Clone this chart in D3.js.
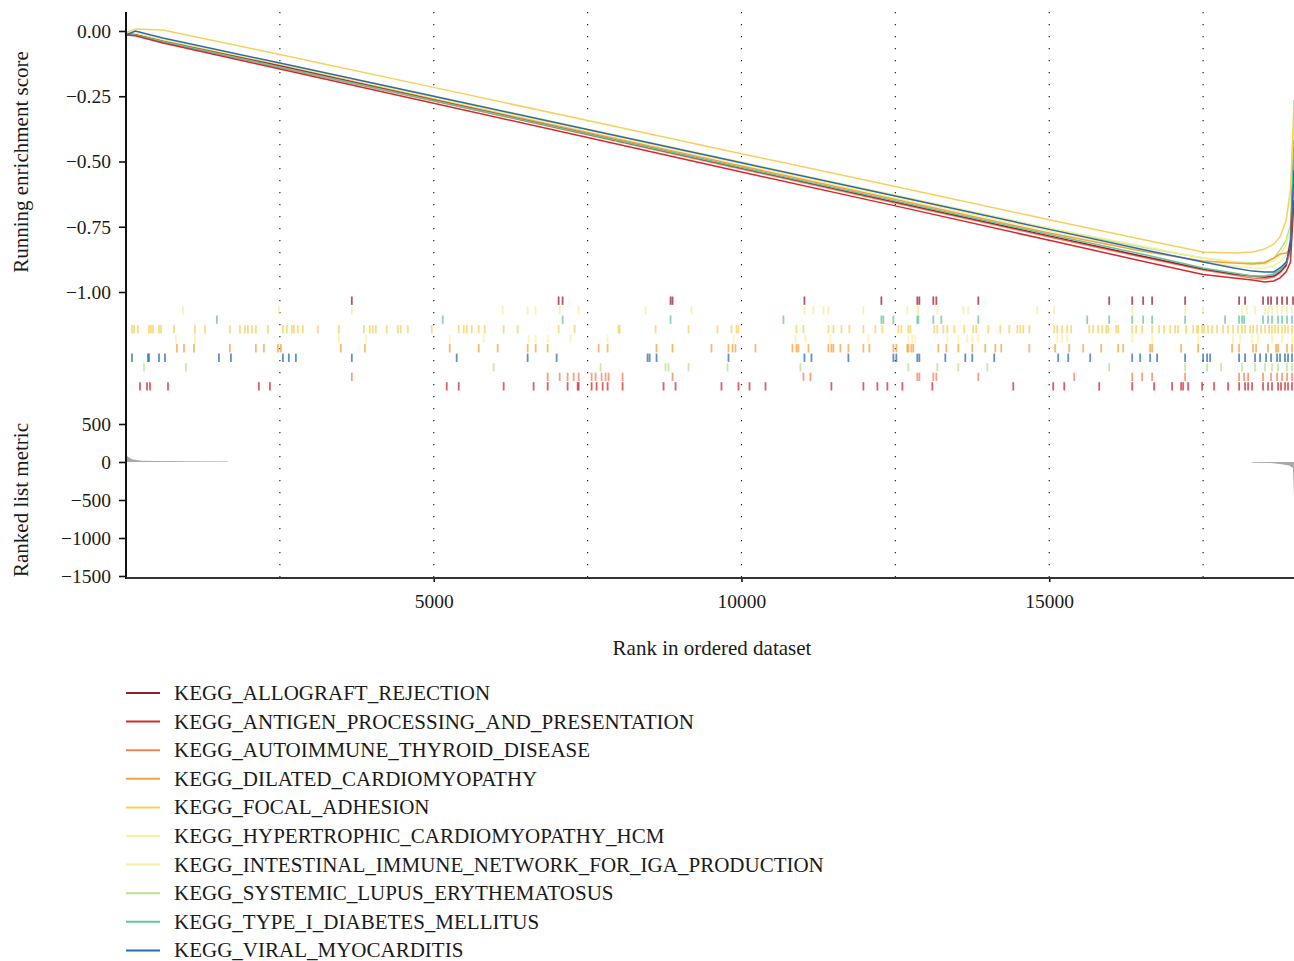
<!DOCTYPE html>
<html>
<head>
<meta charset="utf-8">
<script src="https://cdn.jsdelivr.net/npm/d3@7"></script>
<style>
  body { margin: 0; background: #ffffff; }
  svg { display: block; }
  text { font-family: "Liberation Serif", "DejaVu Serif", serif; fill: #1a1a1a; }
</style>
</head>
<body>
<svg id="chart" width="1294" height="961"></svg>
<script>
// ---- gene sets (legend order) and their colours ----
const geneSets = [
  "KEGG_ALLOGRAFT_REJECTION",
  "KEGG_ANTIGEN_PROCESSING_AND_PRESENTATION",
  "KEGG_AUTOIMMUNE_THYROID_DISEASE",
  "KEGG_DILATED_CARDIOMYOPATHY",
  "KEGG_FOCAL_ADHESION",
  "KEGG_HYPERTROPHIC_CARDIOMYOPATHY_HCM",
  "KEGG_INTESTINAL_IMMUNE_NETWORK_FOR_IGA_PRODUCTION",
  "KEGG_SYSTEMIC_LUPUS_ERYTHEMATOSUS",
  "KEGG_TYPE_I_DIABETES_MELLITUS",
  "KEGG_VIRAL_MYOCARDITIS"
];
const setColors = ["#9b1b30", "#d42a2f", "#f4805a", "#f8a03e", "#f9cf5c",
                   "#fcef9f", "#f3ef9c", "#b6e38a", "#5fc79d", "#2b6cb0"];

// ---- running enrichment score, sampled at these ranks ----
const esRanks = [0, 150, 600, 2500, 5000, 7500, 10000, 12500, 15000, 16500,
                 17500, 18000, 18300, 18500, 18650, 18750, 18850, 18920, 18977];
const esAllograft  = [-0.010, -0.014, -0.040, -0.134, -0.264, -0.395, -0.525, -0.655, -0.785, -0.862, -0.912, -0.931, -0.939, -0.943, -0.939, -0.923, -0.897, -0.801, -0.456];
const esAntigen    = [-0.015, -0.018, -0.046, -0.146, -0.277, -0.408, -0.540, -0.670, -0.802, -0.881, -0.933, -0.946, -0.954, -0.962, -0.958, -0.946, -0.923, -0.885, -0.648];
const esAutoimmune = [-0.012, -0.016, -0.042, -0.140, -0.268, -0.398, -0.529, -0.659, -0.789, -0.866, -0.916, -0.935, -0.946, -0.950, -0.943, -0.927, -0.900, -0.839, -0.494];
const esDilated    = [-0.010, -0.014, -0.038, -0.132, -0.261, -0.389, -0.517, -0.646, -0.774, -0.843, -0.881, -0.889, -0.893, -0.889, -0.870, -0.854, -0.851, -0.839, -0.609];
const esFocal      = [-0.008, 0.008, 0.004, -0.090, -0.216, -0.343, -0.470, -0.596, -0.723, -0.798, -0.847, -0.851, -0.847, -0.835, -0.816, -0.789, -0.724, -0.609, -0.303];
const esHcm        = [-0.005, -0.010, -0.034, -0.126, -0.257, -0.383, -0.510, -0.640, -0.766, -0.839, -0.885, -0.900, -0.908, -0.908, -0.900, -0.885, -0.858, -0.801, -0.571];
const esIntestinal = [-0.005, -0.008, -0.030, -0.123, -0.249, -0.375, -0.502, -0.628, -0.755, -0.824, -0.870, -0.885, -0.893, -0.893, -0.881, -0.858, -0.820, -0.762, -0.379];
const esLupus      = [-0.008, -0.012, -0.036, -0.126, -0.253, -0.379, -0.506, -0.632, -0.759, -0.828, -0.870, -0.885, -0.889, -0.885, -0.870, -0.839, -0.801, -0.743, -0.264];
const esDiabetes   = [-0.008, -0.015, -0.040, -0.138, -0.266, -0.395, -0.523, -0.651, -0.780, -0.854, -0.908, -0.927, -0.939, -0.939, -0.931, -0.916, -0.889, -0.839, -0.418];
const esViral      = [-0.015, 0.000, -0.027, -0.123, -0.250, -0.377, -0.505, -0.632, -0.760, -0.836, -0.885, -0.908, -0.920, -0.923, -0.923, -0.908, -0.885, -0.831, -0.533];

// ---- ranks of gene-set members in the ordered list ----
const hitsAllograft = [3669, 7029, 7094, 8848, 8880, 11023, 12273, 12857, 12890, 13117, 13166, 13848, 15974, 16348, 16526, 16672, 17208, 18085, 18182, 18474, 18555, 18604, 18702, 18783, 18864, 18961];
const hitsAntigen = [227, 341, 390, 682, 2159, 2338, 5211, 5406, 6136, 6623, 6851, 7175, 7338, 7354, 7565, 7646, 7744, 7825, 8068, 8734, 8929, 9675, 9951, 10130, 10390, 11461, 11981, 12208, 12370, 12614, 13101, 14416, 15065, 15244, 15812, 16348, 16705, 16997, 17143, 17176, 17257, 17484, 17679, 17906, 18085, 18182, 18231, 18296, 18474, 18555, 18620, 18718, 18766, 18831, 18880, 18945];
const hitsAutoimmune = [3669, 6851, 7046, 7175, 7273, 7354, 7565, 7630, 7727, 7792, 7841, 8068, 8880, 11007, 11120, 12857, 12890, 13117, 13166, 13848, 15406, 16348, 16510, 16672, 17208, 18085, 18166, 18231, 18474, 18604, 18702, 18783, 18864, 18945];
const hitsDilated = [828, 942, 1104, 1688, 2110, 2240, 2468, 2516, 3490, 3880, 5260, 5731, 6039, 6526, 6656, 6851, 7679, 7825, 8620, 8880, 9513, 9789, 9854, 9903, 10227, 10828, 10893, 10925, 11088, 11413, 11461, 11494, 11607, 11737, 11981, 12078, 12468, 12516, 12695, 12711, 12760, 12792, 13198, 13328, 13523, 13750, 13961, 14124, 14221, 14676, 15098, 15325, 15552, 15844, 16120, 16202, 16640, 16672, 17143, 17419, 17971, 18085, 18312, 18361, 18555, 18685, 18718, 18864, 18945];
const hitsFocal = [97, 130, 195, 373, 406, 438, 536, 568, 779, 1120, 1282, 1688, 1851, 1932, 1981, 2045, 2110, 2305, 2549, 2614, 2695, 2727, 2792, 2873, 3117, 3458, 3864, 3961, 4010, 4059, 4237, 4416, 4464, 4578, 4968, 5406, 5487, 5536, 5617, 5731, 5828, 6136,
  6364, 7029, 7289, 8003, 8020, 8604, 9140, 9611, 9838, 9919, 9951, 10893, 11007, 11413, 11494, 11624, 11753, 11981, 12176, 12289, 12549, 12598,
  12711, 12744, 13133, 13182, 13279, 13344, 13458, 13620, 13766, 13815, 14010, 14205, 14351, 14481, 14529, 14578, 14676, 15081, 15130, 15211, 15292, 15357, 15650, 15714, 15796, 15861, 15926, 15958, 16088, 16120, 16348, 16413, 16510, 16672, 16786, 16867, 16965, 17046, 17094, 17224, 17338, 17403, 17419, 17484, 17516, 17581, 17646, 17728, 17825, 17906, 17987, 18068, 18133, 18182, 18263, 18312, 18377, 18442, 18507, 18572, 18620, 18669, 18718, 18783, 18831, 18880, 18945];
const hitsHcm = [812, 1120, 3458, 3896, 5260, 5812, 6542, 6656, 6851, 7224, 7825, 9870, 10877, 11039, 11445, 12062, 12711, 12776, 12825, 13344, 13523, 13669, 13750, 13848, 15130, 15211, 15292, 16348, 16672, 17419, 17987, 18101, 18296, 18393, 18620, 18783, 18945];
const hitsIntestinal = [925, 2484, 3669, 6120, 6526, 6656, 7046, 7354, 8442, 9188, 11023, 11169, 11331, 11413, 11981, 12695, 12857, 12874, 13182, 13604, 13685, 14805, 15081, 16348, 17208, 17500, 18133, 18215, 18344, 18507, 18555, 18620, 18702, 18783, 18864, 18945];
const hitsLupus = [292, 974, 5974, 7711, 8766, 8815, 9140, 9773, 10958, 12711, 13182, 13523, 13994, 15974, 17208, 17565, 17792, 18133, 18344, 18507, 18620, 18718, 18864, 18945];
const hitsDiabetes = [1477, 5146, 7094, 8848, 10682, 12273, 12305, 12468, 12857, 12874, 13117, 13247, 13848, 15617, 15974, 16348, 16526, 16672, 17208, 17857, 18085, 18133, 18166, 18474, 18555, 18620, 18718, 18783, 18864, 18945];
const hitsViral = [97, 357, 373, 536, 633, 1510, 1705, 2549, 2646, 2760, 3669, 5373, 6526, 6997, 8474, 8507, 8620, 9789, 11023, 11137, 11737, 12468, 12516, 12857, 12890, 13312, 13637, 13750, 14107, 15146, 15309, 15666, 16348, 16478, 16640, 16753, 17208, 17500, 17565, 17614, 18085, 18182, 18344, 18426, 18523, 18604, 18702, 18750, 18831, 18880, 18945];

// rug rows from top to bottom (indices into geneSets)
const rugOrder = [0, 6, 8, 4, 5, 3, 9, 7, 2, 1];

// ---- ranked list metric, sampled ----
const metricRanks  = [0, 30, 100, 250, 500, 1000, 1650, 1680, 18290, 18310, 18600, 18750, 18900, 18960, 18977];
const metricValues = [110, 70, 35, 18, 12, 9, 8, 0, 0, -10, -14, -25, -45, -80, -460];

// ---- axis ticks ----
const esTicks = [0, -0.25, -0.5, -0.75, -1];
const metricTicks = [500, 0, -500, -1000, -1500];
const rankTicks = [5000, 10000, 15000];
const gridRanks = [2500, 5000, 7500, 10000, 12500, 15000, 17500];
const nGenes = 18977;

const esSeries = [esAllograft, esAntigen, esAutoimmune, esDilated, esFocal,
                  esHcm, esIntestinal, esLupus, esDiabetes, esViral];
const hitSeries = [hitsAllograft, hitsAntigen, hitsAutoimmune, hitsDilated, hitsFocal,
                   hitsHcm, hitsIntestinal, hitsLupus, hitsDiabetes, hitsViral];

const svg = d3.select("#chart");

// layout
const left = 126, right = 1294;
const esTop = 12;
const rugTop = 296, rugBottom = 391;
const rankBottom = 578;

const x = d3.scaleLinear().domain([0, nGenes]).range([left, right]);
const yES = d3.scaleLinear().domain([-1, 0]).range([292, 31]);
const yRow = d3.scaleBand().domain(rugOrder).range([rugTop, rugBottom]).paddingInner(0.02);
const yMetric = d3.scaleLinear().domain([-1500, 500]).range([576, 424]);

// dotted vertical grid through all three panels
svg.append("g").selectAll("line").data(gridRanks).join("line")
  .attr("x1", d => x(d)).attr("x2", d => x(d))
  .attr("y1", esTop).attr("y2", rankBottom)
  .attr("stroke", "#222").attr("stroke-width", 1.2)
  .attr("stroke-dasharray", "1.2,10.8");

// rug of gene-set members
const rug = svg.append("g");
rugOrder.forEach(si => {
  rug.append("g").selectAll("line").data(hitSeries[si]).join("line")
    .attr("x1", d => x(d)).attr("x2", d => x(d))
    .attr("y1", yRow(si) + 0.5).attr("y2", yRow(si) + yRow.bandwidth() - 0.5)
    .attr("stroke", setColors[si]).attr("stroke-width", 1.8)
    .attr("stroke-opacity", 0.75);
});

// running enrichment score curves
const line = d3.line().x(d => x(d[0])).y(d => yES(d[1]));
const drawOrder = [7, 6, 5, 3, 2, 0, 8, 1, 9, 4];
svg.append("g").selectAll("path").data(drawOrder).join("path")
  .attr("d", si => line(esRanks.map((r, k) => [r, esSeries[si][k]])))
  .attr("fill", "none")
  .attr("stroke", si => setColors[si])
  .attr("stroke-width", 1.5);

// ranked list metric
const metricData = metricRanks.map((r, k) => [r, metricValues[k]]);
svg.append("path")
  .attr("d", d3.area().x(d => x(d[0])).y0(yMetric(0)).y1(d => yMetric(d[1]))(metricData))
  .attr("fill", "#a8a8a8");

// axes
const yAxisES = d3.axisLeft(yES).tickValues(esTicks).tickFormat(d3.format(".2f"))
  .tickSize(7).tickPadding(8);
const gES = svg.append("g").attr("transform", `translate(${left},0)`).call(yAxisES);
const yAxisM = d3.axisLeft(yMetric).tickValues(metricTicks).tickFormat(d3.format("d"))
  .tickSize(7).tickPadding(8);
const gM = svg.append("g").attr("transform", `translate(${left},0)`).call(yAxisM);
const xAxis = d3.axisBottom(x).tickValues(rankTicks).tickFormat(d3.format("d"))
  .tickSize(4).tickPadding(12);
const gX = svg.append("g").attr("transform", `translate(0,${rankBottom})`).call(xAxis);

[gES, gM, gX].forEach(g => {
  g.select(".domain").remove();
  g.selectAll(".tick line").attr("stroke", "#111").attr("stroke-width", 1.6);
  g.selectAll(".tick text").style("font-family", '"Liberation Serif", serif')
    .style("font-size", "19.5px").attr("fill", "#1a1a1a");
});

// axis lines
svg.append("line").attr("x1", left).attr("x2", left).attr("y1", esTop).attr("y2", rankBottom + 1)
  .attr("stroke", "#111").attr("stroke-width", 2);
svg.append("line").attr("x1", left).attr("x2", right).attr("y1", rankBottom).attr("y2", rankBottom)
  .attr("stroke", "#333").attr("stroke-width", 2);

// axis titles
svg.append("text").attr("transform", "translate(28,162) rotate(-90)")
  .attr("text-anchor", "middle").style("font-size", "21px").text("Running enrichment score");
svg.append("text").attr("transform", "translate(28,500) rotate(-90)")
  .attr("text-anchor", "middle").style("font-size", "21px").text("Ranked list metric");
svg.append("text").attr("x", 712).attr("y", 655)
  .attr("text-anchor", "middle").style("font-size", "21px").text("Rank in ordered dataset");

// legend
const legend = svg.append("g");
const lg = legend.selectAll("g").data(geneSets).join("g")
  .attr("transform", (d, i) => `translate(0,${693 + i * 28.6})`);
lg.append("line").attr("x1", 126).attr("x2", 160).attr("y1", 0).attr("y2", 0)
  .attr("stroke", (d, i) => setColors[i]).attr("stroke-width", 2);
lg.append("text").attr("x", 174).attr("y", 7).style("font-size", "21px").text(d => d);
</script>
</body>
</html>
